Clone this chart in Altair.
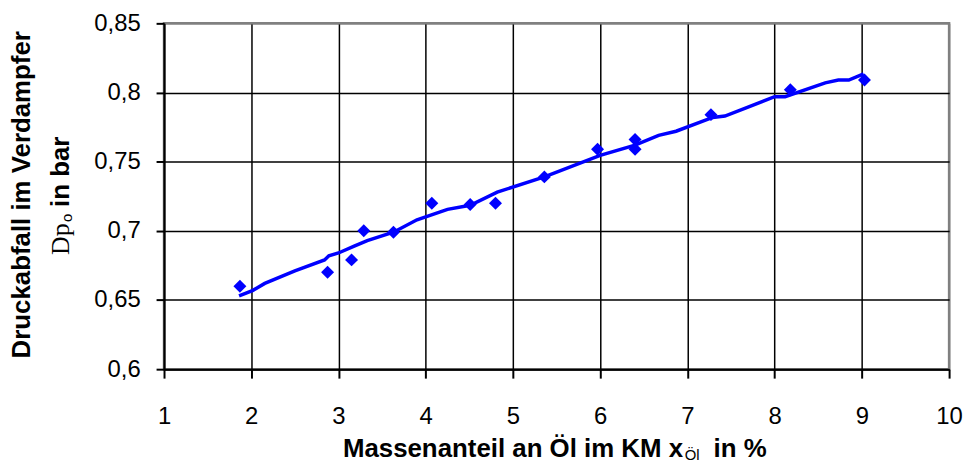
import altair as alt
import pandas as pd

# measured data points (diamonds)
x_points = [1.87, 2.875, 3.15, 3.29, 3.63, 4.07, 4.51, 4.80, 5.36, 5.97, 6.40, 6.40, 7.27, 8.18, 9.03]
y_points = [0.660, 0.670, 0.679, 0.700, 0.699, 0.720, 0.719, 0.720, 0.739, 0.759, 0.766, 0.759, 0.784, 0.802, 0.809]

# fitted curve as drawn
x_curve = [1.86, 2.02, 2.155, 2.50, 2.84, 2.89, 3.0, 3.18, 3.33, 3.63, 3.9, 4.25, 4.51, 4.82,
           5.36, 6.0, 6.4, 6.67, 6.87, 7.29, 7.43, 7.68, 8.0, 8.12, 8.58, 8.73, 8.85, 9.02]
y_curve = [0.653, 0.657, 0.662, 0.671, 0.679, 0.682, 0.684, 0.689, 0.693, 0.699, 0.708, 0.7155, 0.7185, 0.728,
           0.739, 0.7545, 0.762, 0.769, 0.772, 0.782, 0.783, 0.789, 0.797, 0.797, 0.807, 0.809, 0.809, 0.8135]

x_ticks = [1, 2, 3, 4, 5, 6, 7, 8, 9, 10]
y_ticks = [0.6, 0.65, 0.7, 0.75, 0.8, 0.85]

x_title_main = "Massenanteil an Öl im KM x"
x_title_sub = "Öl"
x_title_end = "in %"
y_title_1 = "Druckabfall im Verdampfer"
y_title_2a = "Dp"
y_title_2b = "o"
y_title_2c = "in bar"

W, H = 790, 348
BLUE = "#0000FF"
SANS = "Liberation Sans"
SERIF = "Liberation Serif"

pts = pd.DataFrame({"x": x_points, "y": y_points})
crv = pd.DataFrame({"x": x_curve, "y": y_curve})

xscale = alt.Scale(domain=[1, 10], nice=False, zero=False)
yscale = alt.Scale(domain=[0.6, 0.85], nice=False, zero=False)

xaxis = alt.Axis(
    values=x_ticks, title=None, grid=True, format="d",
    gridColor={"condition": {"test": "datum.value >= 10", "value": "#808080"}, "value": "black"},
    gridWidth=1.5, domainColor="black", domainWidth=2, tickColor="black", tickWidth=2,
    tickSize=9, labelFont=SANS, labelFontSize=24, labelColor="black", labelPadding=27,
    labelFlush=False, labelOverlap=False,
)
yaxis = alt.Axis(
    values=y_ticks, title=None, grid=True,
    gridColor={"condition": {"test": "datum.value >= 0.849", "value": "#808080"}, "value": "black"},
    gridWidth=1.5, domainColor="black", domainWidth=2, tickColor="black", tickWidth=2,
    tickSize=8, labelFont=SANS, labelFontSize=24, labelColor="black", labelPadding=16,
    labelExpr="replace(format(datum.value, '.2~f'), '.', ',')", labelOverlap=False,
)

line = alt.Chart(crv).mark_line(color=BLUE, strokeWidth=3.5).encode(
    x=alt.X("x:Q", scale=xscale, axis=xaxis),
    y=alt.Y("y:Q", scale=yscale, axis=yaxis),
)
points = alt.Chart(pts).mark_point(shape="diamond", filled=True, size=170, color=BLUE, opacity=1).encode(
    x=alt.X("x:Q", scale=xscale),
    y=alt.Y("y:Q", scale=yscale),
)


def txt(s, x, y, **kw):
    return alt.Chart(pd.DataFrame({"t": [s]})).mark_text(color="black", **kw).encode(
        text="t:N", x=alt.value(x), y=alt.value(y)
    )


texts = [
    txt(x_title_main, 180, 436, font=SANS, fontSize=26, fontWeight="bold", align="left", baseline="alphabetic"),
    txt(x_title_sub, 524, 439, font=SANS, fontSize=15, align="left", baseline="alphabetic"),
    txt(x_title_end, 553, 436, font=SANS, fontSize=26, fontWeight="bold", align="left", baseline="alphabetic"),
    txt(y_title_1, -135, 172.5, font=SANS, fontSize=26, fontWeight="bold", angle=270, align="center", baseline="alphabetic"),
    txt(y_title_2a, -96, 233, font=SERIF, fontSize=26, angle=270, align="left", baseline="alphabetic"),
    txt(y_title_2b, -93, 200, font=SANS, fontSize=15, angle=270, align="left", baseline="alphabetic"),
    txt(y_title_2c, -96, 114, font=SANS, fontSize=26, fontWeight="bold", angle=270, align="right", baseline="alphabetic"),
]

chart = alt.layer(line, points, *texts).properties(
    width=W, height=H,
    autosize=alt.AutoSizeParams(type="none"),
    padding={"left": 157, "top": 14, "right": 16, "bottom": 98},
    background="white",
).configure_view(stroke="#808080", strokeWidth=2.5)

chart.save("out.html", embed_options={"renderer": "svg", "actions": False})
